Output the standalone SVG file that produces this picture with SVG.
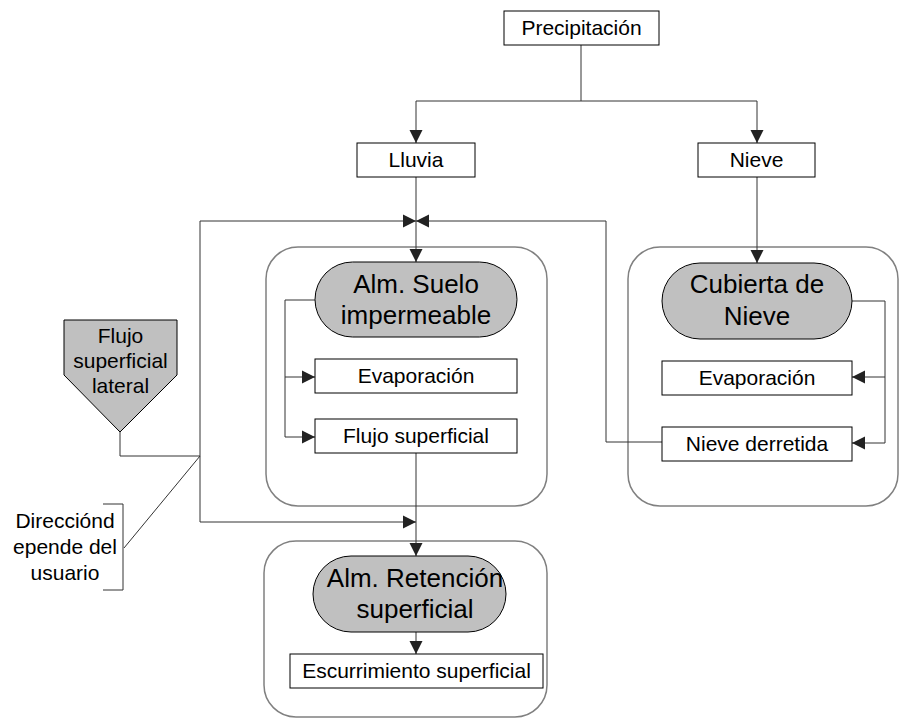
<svg xmlns="http://www.w3.org/2000/svg" width="900" height="719" viewBox="0 0 900 719">
<defs>
<marker id="arr" markerUnits="userSpaceOnUse" markerWidth="15" markerHeight="15" viewBox="0 0 15 15" refX="14" refY="7.5" orient="auto">
<path d="M1,1 L14,7.5 L1,14 Z" fill="#222"/>
</marker>
</defs>
<style>
.box{fill:#fff;stroke:#000;stroke-width:1}
.pill{fill:#c0c0c0;stroke:#000;stroke-width:1}
.cont{fill:none;stroke:#808080;stroke-width:1.5}
.ln{fill:none;stroke:#333;stroke-width:1}
.t{font-family:"Liberation Sans",Arial,sans-serif;font-size:21px;fill:#000;text-anchor:middle}
.tb{font-family:"Liberation Sans",Arial,sans-serif;font-size:26px;fill:#000;text-anchor:middle}
</style>
<rect fill="#fff" x="0" y="0" width="900" height="719"/>

<g id="containers">
<rect class="cont" x="266" y="247" width="281" height="259" rx="32"/>
<rect class="cont" x="628" y="247" width="270" height="259" rx="32"/>
<rect class="cont" x="264" y="541" width="283" height="176" rx="32"/>
</g>

<g id="connectors">
<path class="ln" d="M581,45 V101"/>
<path class="ln" d="M416,101 H757"/>
<path class="ln" d="M416,101 V143" marker-end="url(#arr)"/>
<path class="ln" d="M757,101 V143" marker-end="url(#arr)"/>
<path class="ln" d="M416,177 V262" marker-end="url(#arr)"/>
<path class="ln" d="M200,456 V221 H416" marker-end="url(#arr)"/>
<path class="ln" d="M200,456 V522 H416" marker-end="url(#arr)"/>
<path class="ln" d="M120,432 V456 H200"/>
<path class="ln" d="M662,442 H606 V221 H416" marker-end="url(#arr)"/>
<path class="ln" d="M200,456 L124,548"/>
<path class="ln" d="M103,504 H123 V590 H103"/>
<path class="ln" d="M757,177 V263" marker-end="url(#arr)"/>
<path class="ln" d="M315,300 H285 V437 H315" marker-end="url(#arr)"/>
<path class="ln" d="M285,377 H315" marker-end="url(#arr)"/>
<path class="ln" d="M416,453 V556" marker-end="url(#arr)"/>
<path class="ln" d="M416,632 V654" marker-end="url(#arr)"/>
<path class="ln" d="M852,301 H885 V443 H852" marker-end="url(#arr)"/>
<path class="ln" d="M885,377 H852" marker-end="url(#arr)"/>
</g>

<g id="precipitacion">
<rect class="box" x="504" y="11" width="155" height="34"/>
<text class="t" x="581.5" y="35">Precipitación</text>
</g>
<g id="lluvia">
<rect class="box" x="357" y="143" width="118" height="34"/>
<text class="t" x="416" y="167">Lluvia</text>
</g>
<g id="nieve">
<rect class="box" x="698" y="143" width="117" height="34"/>
<text class="t" x="756.5" y="167">Nieve</text>
</g>

<g id="alm-suelo">
<rect class="pill" x="315" y="262" width="202" height="75" rx="37.5"/>
<text class="tb" x="416" y="293">Alm. Suelo</text>
<text class="tb" x="416" y="324">impermeable</text>
</g>
<g id="evap-suelo">
<rect class="box" x="315" y="359" width="202" height="34"/>
<text class="t" x="416" y="383">Evaporación</text>
</g>
<g id="flujo-superficial">
<rect class="box" x="315" y="419" width="202" height="34"/>
<text class="t" x="416" y="443">Flujo superficial</text>
</g>

<g id="cubierta-nieve">
<rect class="pill" x="662" y="263" width="190" height="76" rx="38"/>
<text class="tb" x="757" y="293">Cubierta de</text>
<text class="tb" x="757" y="325">Nieve</text>
</g>
<g id="evap-nieve">
<rect class="box" x="662" y="361" width="190" height="34"/>
<text class="t" x="757" y="385">Evaporación</text>
</g>
<g id="nieve-derretida">
<rect class="box" x="662" y="427" width="190" height="34"/>
<text class="t" x="757" y="451">Nieve derretida</text>
</g>

<g id="flujo-lateral">
<polygon class="pill" points="64,320 177,320 177,375 120,432 64,375"/>
<text class="t" x="120.5" y="343">Flujo</text>
<text class="t" x="120.5" y="368">superficial</text>
<text class="t" x="120.5" y="393">lateral</text>
</g>

<g id="direccion-nota">
<text class="t" x="65" y="528">Direcciónd</text>
<text class="t" x="65" y="554">epende del</text>
<text class="t" x="65" y="580">usuario</text>
</g>

<g id="alm-retencion">
<rect class="pill" x="313" y="556" width="193" height="76" rx="38"/>
<text class="tb" x="415" y="587">Alm. Retención</text>
<text class="tb" x="415" y="618">superficial</text>
</g>
<g id="escurrimiento">
<rect class="box" x="290" y="654" width="253" height="34"/>
<text class="t" x="416.5" y="678">Escurrimiento superficial</text>
</g>
</svg>
